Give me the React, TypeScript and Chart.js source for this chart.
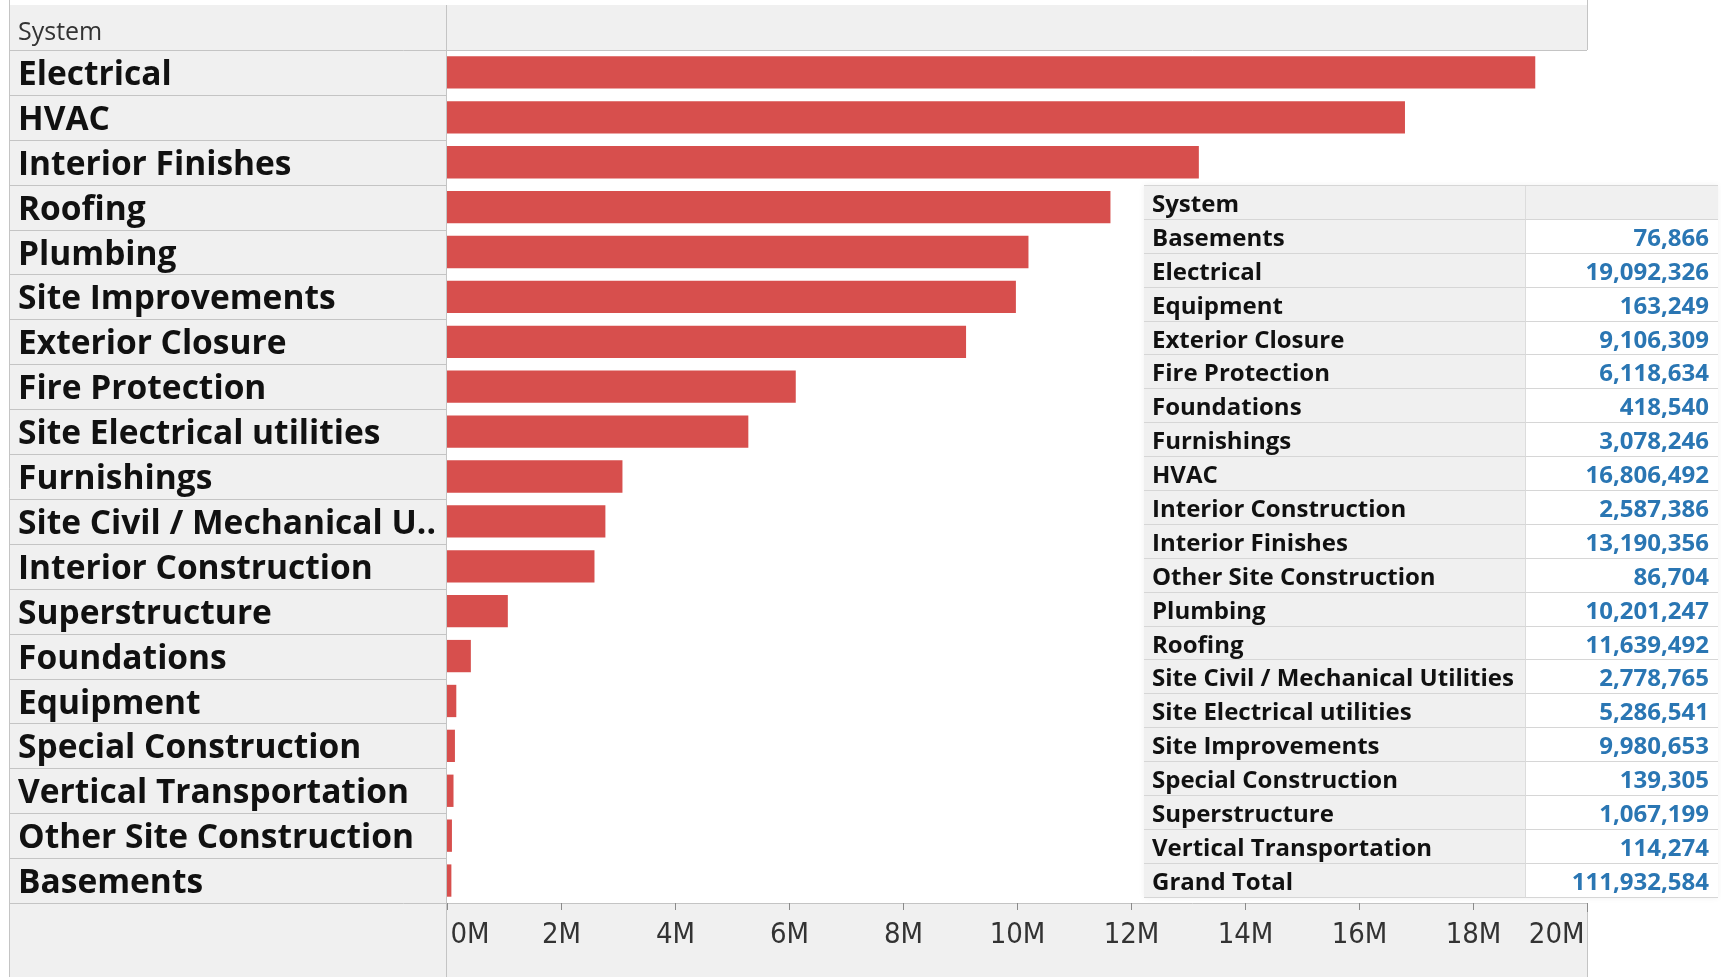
import React, { useEffect, useRef } from "react";
import { Chart, registerables } from "chart.js";

Chart.register(...registerables);

// ---- Data ----
const categories = [
  "Electrical",
  "HVAC",
  "Interior Finishes",
  "Roofing",
  "Plumbing",
  "Site Improvements",
  "Exterior Closure",
  "Fire Protection",
  "Site Electrical utilities",
  "Furnishings",
  "Site Civil / Mechanical Utilities",
  "Interior Construction",
  "Superstructure",
  "Foundations",
  "Equipment",
  "Special Construction",
  "Vertical Transportation",
  "Other Site Construction",
  "Basements",
];
const values = [
  19092326, 16806492, 13190356, 11639492, 10201247, 9980653, 9106309, 6118634,
  5286541, 3078246, 2778765, 2587386, 1067199, 418540, 163249, 139305, 114274,
  86704, 76866,
];
const tickValues = [0, 2e6, 4e6, 6e6, 8e6, 10e6, 12e6, 14e6, 16e6, 18e6, 20e6];
const tickLabels = ["0M", "2M", "4M", "6M", "8M", "10M", "12M", "14M", "16M", "18M", "20M"];
const headerLabel = "System";
const totalLabel = "Grand Total";

// ---- Styles ----
const W = 1721;
const H = 977;
const BAR = "#d74f4d";
const PANEL = "#f0f0f0";
const LINE = "#c4c4c4";
const BLUE = "#2a76b3";
const LABEL_FONT = '"Open Sans", "Noto Sans", sans-serif';
const AXIS_FONT = '"Liberation Sans Narrow", "DejaVu Sans Condensed", "Roboto Condensed", "Liberation Sans", sans-serif';

const PANEL_LEFT = 9;
const PANEL_TOP = 5;
const PLOT_LEFT = 447;
const PLOT_RIGHT = 1587;
const PLOT_TOP = 50;
const PLOT_BOTTOM = 903;

const truncate = (s: string) => (s.length > 28 ? s.slice(0, 25) + ".." : s);

const decorPlugin = {
  id: "decor",
  beforeDraw(chart: any) {
    const ctx = chart.ctx as CanvasRenderingContext2D;
    const { top, bottom, left, right } = chart.chartArea;
    ctx.save();
    ctx.fillStyle = "#ffffff";
    ctx.fillRect(0, 0, W, H);
    ctx.fillStyle = PANEL;
    ctx.fillRect(PANEL_LEFT, PANEL_TOP, left - PANEL_LEFT, H - PANEL_TOP);
    ctx.fillRect(left, PANEL_TOP, right - left, top - PANEL_TOP);
    ctx.fillRect(left, bottom, right - left, H - bottom);
    ctx.restore();
  },
  afterDraw(chart: any) {
    const ctx = chart.ctx as CanvasRenderingContext2D;
    const { top, bottom, left, right } = chart.chartArea;
    const yScale = chart.scales.y;
    const xScale = chart.scales.x;
    const n = categories.length;
    const rowH = (bottom - top) / n;
    ctx.save();
    ctx.strokeStyle = LINE;
    ctx.lineWidth = 1;
    for (let i = 1; i < n; i++) {
      const y = Math.round(yScale.getPixelForValue(i) - rowH / 2) + 0.5;
      ctx.beginPath();
      ctx.moveTo(PANEL_LEFT, y);
      ctx.lineTo(left, y);
      ctx.stroke();
    }
    ctx.beginPath();
    ctx.moveTo(PANEL_LEFT, Math.round(top) + 0.5);
    ctx.lineTo(right, Math.round(top) + 0.5);
    ctx.moveTo(PANEL_LEFT, Math.round(bottom) + 0.5);
    ctx.lineTo(right, Math.round(bottom) + 0.5);
    ctx.stroke();
    ctx.beginPath();
    ctx.moveTo(PANEL_LEFT + 0.5, 0);
    ctx.lineTo(PANEL_LEFT + 0.5, H);
    ctx.moveTo(Math.round(left) - 0.5, PANEL_TOP);
    ctx.lineTo(Math.round(left) - 0.5, H);
    ctx.moveTo(Math.round(right) + 0.5, 0);
    ctx.lineTo(Math.round(right) + 0.5, top);
    ctx.moveTo(Math.round(right) + 0.5, bottom);
    ctx.lineTo(Math.round(right) + 0.5, H);
    ctx.stroke();

    ctx.strokeStyle = "#8a8a8a";
    ctx.fillStyle = "#333333";
    ctx.font = `29px ${AXIS_FONT}`;
    ctx.textBaseline = "middle";
    tickValues.forEach((v, i) => {
      const x = Math.round(xScale.getPixelForValue(v)) + 0.5;
      ctx.beginPath();
      ctx.moveTo(x, bottom);
      ctx.lineTo(x, bottom + (i === tickValues.length - 1 ? 9 : 7));
      ctx.stroke();
      let tx = x;
      if (i === 0) {
        ctx.textAlign = "left";
        tx = x + 3;
      } else if (i === tickValues.length - 1) {
        ctx.textAlign = "right";
        tx = x - 3;
      } else {
        ctx.textAlign = "center";
      }
      ctx.fillText(tickLabels[i], tx, 935);
    });

    ctx.fillStyle = "#333333";
    ctx.font = `25px ${LABEL_FONT}`;
    ctx.textAlign = "left";
    ctx.fillText(headerLabel, 18, (PANEL_TOP + top) / 2 + 5);
    ctx.restore();
  },
};

function DataTable() {
  const rows = categories
    .map((c, i) => ({ name: c, value: values[i] }))
    .sort((a, b) => a.name.localeCompare(b.name));
  const total = values.reduce((s, v) => s + v, 0);
  const rowH = 33.9;
  const cellBase: React.CSSProperties = {
    height: rowH,
    boxSizing: "border-box",
    borderBottom: "1px solid #d6d6d6",
    display: "flex",
    alignItems: "center",
    fontFamily: LABEL_FONT,
    fontWeight: 700,
    fontSize: 24,
    whiteSpace: "nowrap",
  };
  const Row = ({ name, val, header }: { name: string; val: string; header?: boolean }) => (
    <div style={{ display: "flex" }}>
      <div style={{ ...cellBase, width: 382, background: PANEL, color: "#111", paddingLeft: 8, borderRight: "1px solid #dcdcdc" }}>
        {name}
      </div>
      <div
        style={{
          ...cellBase,
          width: 192,
          background: header ? PANEL : "#ffffff",
          color: BLUE,
          justifyContent: "flex-end",
          paddingRight: 9,
        }}
      >
        {val}
      </div>
    </div>
  );
  return (
    <div
      style={{
        position: "absolute",
        left: 1144,
        top: 185,
        width: 574,
        background: "#fff",
        borderTop: "1px solid #d6d6d6",
        boxShadow: "0 0 6px rgba(0,0,0,0.06)",
      }}
    >
      <Row name={headerLabel} val="" header />
      {rows.map((r) => (
        <Row key={r.name} name={r.name} val={r.value.toLocaleString("en-US")} />
      ))}
      <Row name={totalLabel} val={total.toLocaleString("en-US")} />
    </div>
  );
}

export default function App() {
  const ref = useRef<HTMLCanvasElement | null>(null);
  useEffect(() => {
    if (!ref.current) return;
    const chart = new Chart(ref.current, {
      type: "bar",
      data: {
        labels: categories,
        datasets: [
          {
            data: values,
            backgroundColor: BAR,
            borderWidth: 0,
            barPercentage: 0.72,
            categoryPercentage: 1,
          },
        ],
      },
      plugins: [decorPlugin],
      options: {
        indexAxis: "y",
        animation: false,
        responsive: false,
        devicePixelRatio: 1,
        layout: {
          padding: { top: PLOT_TOP, left: 18, right: W - PLOT_RIGHT, bottom: 0 },
        },
        plugins: {
          legend: { display: false },
          tooltip: { enabled: false },
          title: { display: false },
        },
        scales: {
          x: {
            type: "linear",
            min: 0,
            max: 20000000,
            grid: { display: false },
            border: { display: false },
            ticks: { display: false, stepSize: 2000000 },
            afterFit(scale: any) {
              scale.height = H - PLOT_BOTTOM;
            },
          },
          y: {
            type: "category",
            grid: { display: false },
            border: { display: false },
            ticks: {
              crossAlign: "far",
              color: "#111111",
              padding: 0,
              labelOffset: 3,
              font: { family: LABEL_FONT, weight: "bold", size: 33.5 },
              callback(this: any, v: any) {
                return truncate(this.getLabelForValue(v));
              },
            },
            afterFit(scale: any) {
              scale.width = PLOT_LEFT - 18;
            },
          },
        },
      } as any,
    });
    return () => chart.destroy();
  }, []);
  return (
    <div style={{ position: "fixed", left: 0, top: 0, width: W, height: H, background: "#fff" }}>
      <canvas ref={ref} width={W} height={H} style={{ width: W, height: H, display: "block" }} />
      <DataTable />
    </div>
  );
}
